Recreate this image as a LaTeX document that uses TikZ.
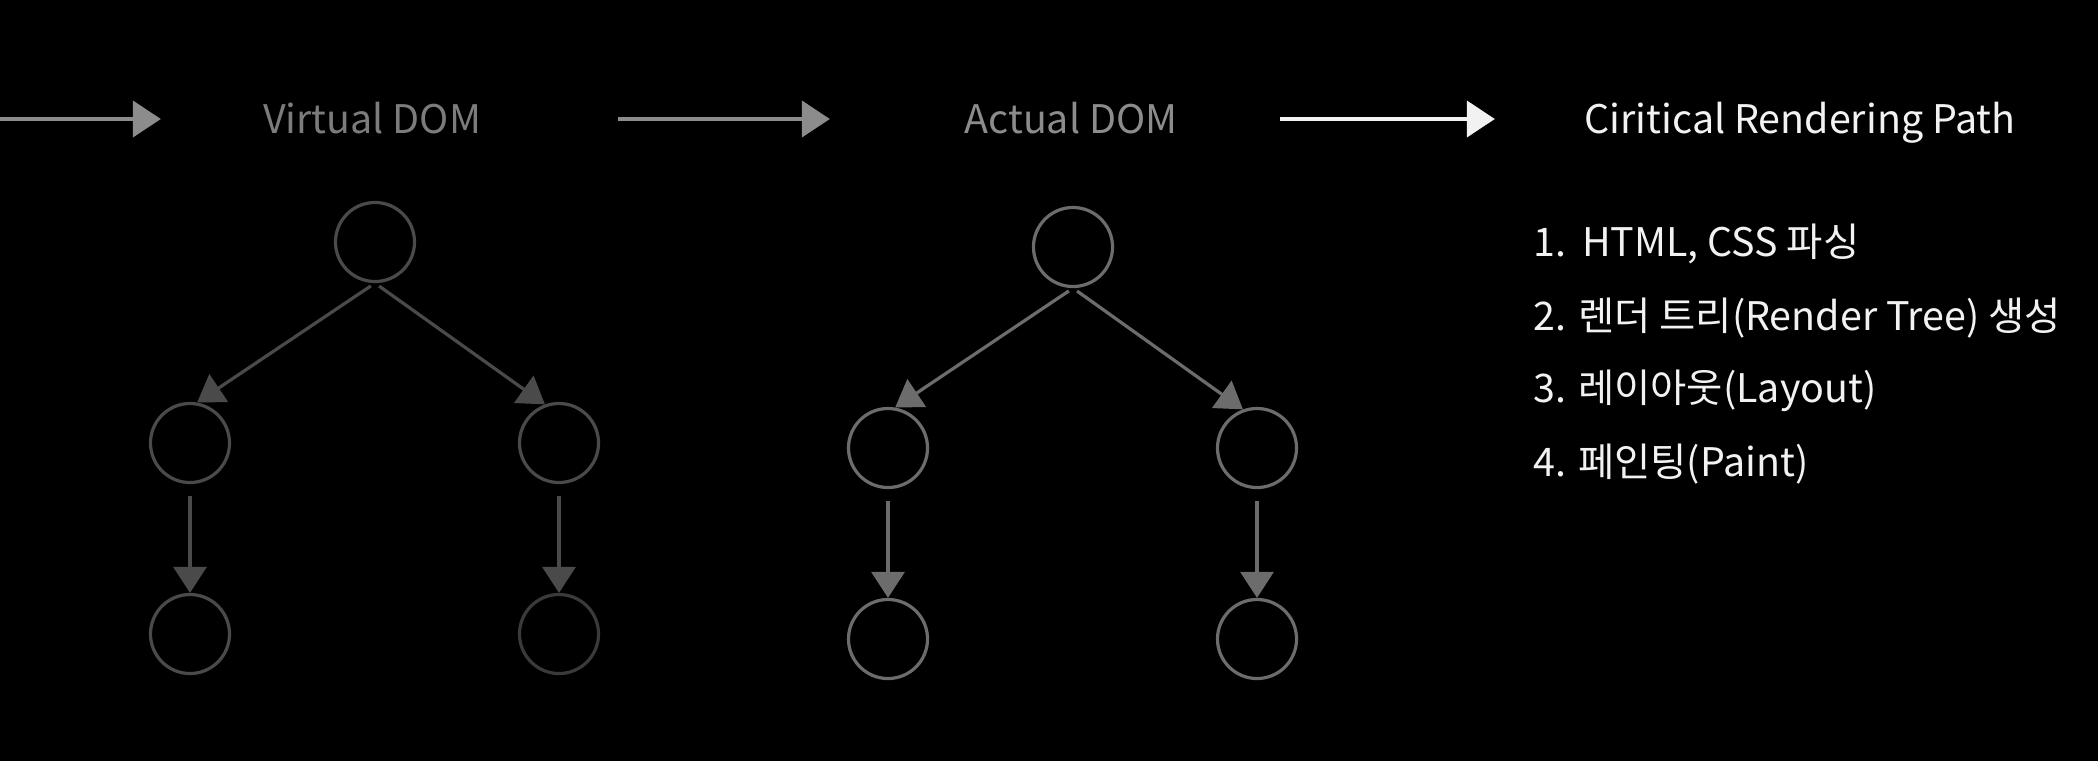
\documentclass[tikz,border=0pt]{standalone}
\usepackage{fontspec}
\setmainfont{Noto Sans CJK KR}
\usetikzlibrary{positioning,arrows.meta}
\definecolor{vgray}{RGB}{74,74,74}
\definecolor{vdark}{RGB}{58,58,58}
\definecolor{agray}{RGB}{108,108,108}
\definecolor{lgray}{RGB}{124,124,124}
\definecolor{mgray}{RGB}{140,140,140}
\definecolor{snow}{RGB}{242,242,242}

\begin{document}
\begin{tikzpicture}[x=0.01cm,y=-0.01cm,
    heading/.style={inner sep=0pt,text height=0.28cm,text depth=0pt,font=\fontsize{11.2}{14}\selectfont},
    stepitem/.style={heading,anchor=west,text=snow},
    dot/.style={circle,draw,line width=0.032cm,minimum size=0.79cm,inner sep=0pt},
    flow/.style={-{Triangle[length=0.28cm,width=0.36cm]},line width=0.04cm},
    link/.style={-{Triangle[length=0.26cm,width=0.33cm]},line width=0.032cm}]
  \useasboundingbox (0,0) rectangle (2098,760);
  \fill[black] (-2,-2) rectangle (2100,762);
  % stages along the top
  \node[heading,text=lgray] (vdom) at (372,119) {Virtual DOM};
  \node[heading,text=mgray] (adom) at (1071,119) {Actual DOM};
  \node[heading,text=snow] (crp) at (1800,119) {Ciritical Rendering Path};
  \coordinate (feed) at (0,119);
  \draw[flow,color=mgray,shorten >=2.11cm] (feed) -- (vdom.center);
  \draw[flow,color=mgray,shorten <=2.46cm,shorten >=2.41cm] (vdom.center) -- (adom.center);
  \draw[flow,color=snow,shorten <=2.09cm,shorten >=3.05cm] (adom.center) -- (crp.center);
  % the two trees
  \foreach \t/\x/\y/\col/\cold in {v/375/242/vgray/vdark,a/1073/247/agray/agray}{
    \node[dot,draw=\col] (\t0) at (\x,\y) {};
    \node[dot,draw=\col] (\t1) at (\x-185,\y+201) {};
    \node[dot,draw=\col] (\t2) at (\x+184,\y+201) {};
    \node[dot,draw=\col] (\t3) at (\x-185,\y+392) {};
    \node[dot,draw=\cold] (\t4) at (\x+184,\y+392) {};
    \draw[link,color=\col,shorten <=0.05cm] (\t0.south) -- (\t1.80);
    \draw[link,color=\col,shorten <=0.05cm] (\t0.south) -- (\t2.110);
    \draw[link,color=\col,shorten <=0.12cm] (\t1.south) -- (\t3.north);
    \draw[link,color=\col,shorten <=0.12cm] (\t2.south) -- (\t4.north);
  }
  % steps
  \node[stepitem] (s1) at (1533,242) {1.\hspace{0.1em} HTML, CSS 파싱};
  \node[stepitem] (s2) at (1533,316) {2. 렌더 트리(Render Tree) 생성};
  \node[stepitem] (s3) at (1533,388) {3. 레이아웃(Layout)};
  \node[stepitem] (s4) at (1533,462) {4. 페인팅(Paint)};
\end{tikzpicture}
\end{document}
